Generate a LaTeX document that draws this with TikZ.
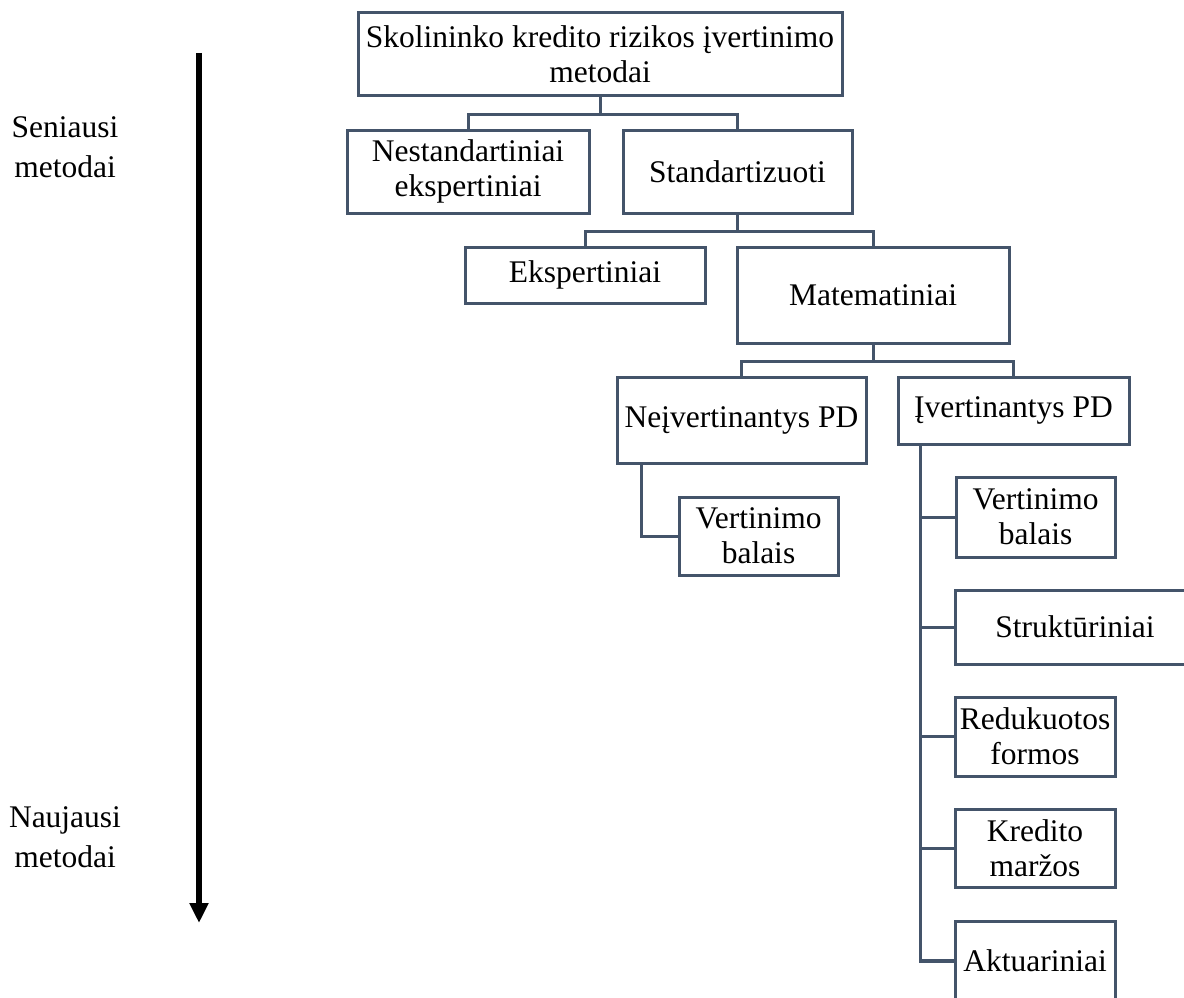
\documentclass[tikz,border=0pt]{standalone}
\usepackage{fontspec}
\setmainfont{Liberation Serif}
\usetikzlibrary{arrows.meta}

\definecolor{boxline}{HTML}{44546A}

\begin{document}
\begin{tikzpicture}[x=1pt,y=-1pt,
  every node/.style={font=\fontsize{31.5}{35}\selectfont, inner sep=0pt, align=center},
  box/.style={draw=boxline, line width=3pt, fill=white, minimum width=#1},
  box/.default=100pt,
  link/.style={draw=boxline, line width=3pt},
  spine/.style={draw=boxline, line width=3.5pt},
  side/.style={font=\fontsize{31.5}{40}\selectfont}]

  \useasboundingbox (0,0) rectangle (1184,998);

  % time axis on the left
  \coordinate (arrowtop) at (199,53);
  \coordinate (arrowbot) at (199,923);
  \draw[line width=6pt, -{Triangle[width=18pt,length=20pt]}] (arrowtop) -- (arrowbot);
  \node[side] (oldest) at (65,147) {Seniausi\\metodai};
  \node[side] (newest) at (65,837) {Naujausi\\metodai};

  % hierarchy boxes
  \node[box=484pt, minimum height=83pt] (root) at (600,54.5) {Skolininko kredito rizikos įvertinimo\\metodai};
  \node[box=242pt, minimum height=83pt] (nest) at (468,171.5) {Nestandartiniai\\ekspertiniai};
  \node[box=229pt, minimum height=83pt] (std) at (737.5,171.5) {Standartizuoti};
  \node[box=240pt, minimum height=56pt] (eksp) at (585,275) {Ekspertiniai};
  \node[box=272pt, minimum height=96pt] (mat) at (873,295) {Matematiniai};
  \node[box=249pt, minimum height=86pt] (nei) at (741.5,420) {Neįvertinantys PD};
  \node[box=231pt, minimum height=67pt] (iv) at (1013.5,410.5) {Įvertinantys PD};
  \node[box=159pt, minimum height=78pt] (vb1) at (758.5,536) {Vertinimo\\balais};
  \node[box=159pt, minimum height=80pt] (vb2) at (1035.5,517) {Vertinimo\\balais};
  \node[box=240pt, minimum height=74pt] (str) at (1075,627) {Struktūriniai};
  \node[box=160pt, minimum height=79pt] (red) at (1035,736.5) {Redukuotos\\formos};
  \node[box=160pt, minimum height=78pt] (kre) at (1035,848) {Kredito\\maržos};
  \node[box=160pt, minimum height=80pt] (akt) at (1035,961) {Aktuariniai};

  % junctions of the tree connectors
  \path (root.south) ++(0,17) coordinate (j1);
  \path (std.south) ++(0,17) coordinate (j2);
  \path (mat.south) ++(0,17) coordinate (j3);
  \coordinate (nsp) at ([xshift=26pt]nei.south west);
  \coordinate (isp) at ([xshift=24pt]iv.south west);

  \draw[link] (root.south) -- (j1) -| (nest.north);
  \draw[link] (j1) -| (std.north);
  \draw[link] (std.south) -- (j2) -| (eksp.north);
  \draw[link] (j2) -| (mat.north);
  \draw[link] (mat.south) -- (j3) -| (nei.north);
  \draw[link] (j3) -| (iv.north);

  \draw[link] (nsp) |- (vb1.west);

  \draw[spine] (isp) |- (akt.west);
  \draw[link] (vb2.west -| isp) -- (vb2.west);
  \draw[link] (str.west -| isp) -- (str.west);
  \draw[link] (red.west -| isp) -- (red.west);
  \draw[link] (kre.west -| isp) -- (kre.west);
\end{tikzpicture}
\end{document}
